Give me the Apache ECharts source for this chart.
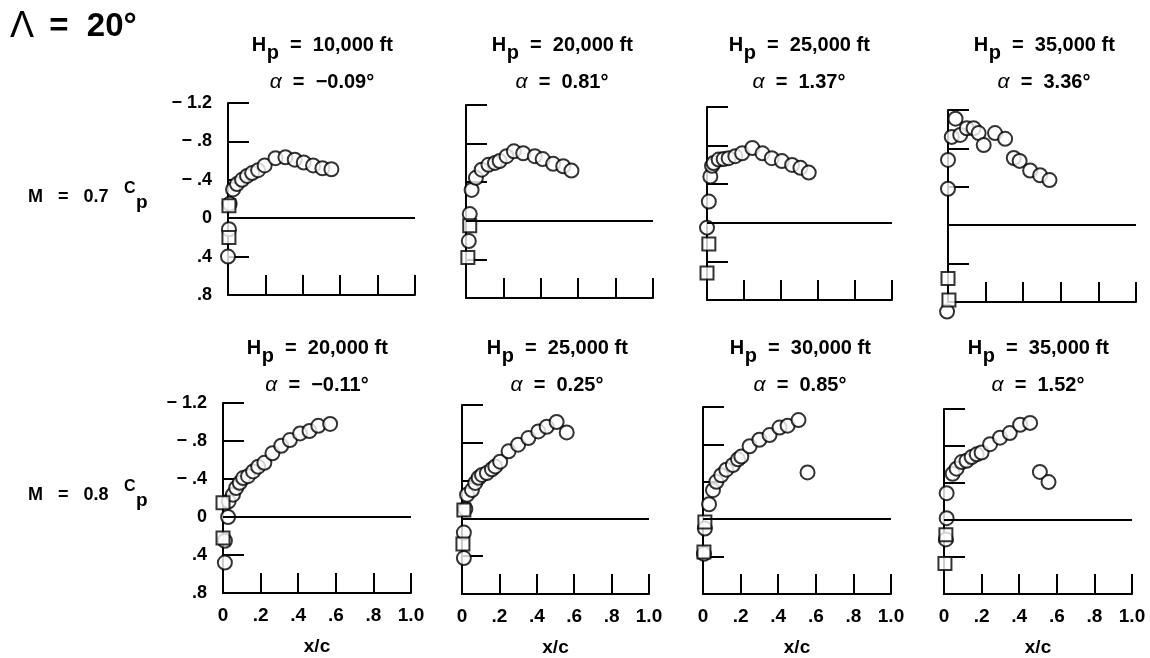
<!DOCTYPE html>
<html>
<head>
<meta charset="utf-8">
<title>Pressure distributions, sweep 20 deg</title>
<script src="https://cdn.jsdelivr.net/npm/echarts@6/dist/echarts.min.js"></script>
<style>
  html, body { margin: 0; padding: 0; background: #fff; }
  #chart { width: 1150px; height: 658px; }
</style>
</head>
<body>
<div id="chart"></div>
<script>
// tick labels
const xTickLabels = ['0', '.2', '.4', '.6', '.8', '1.0'];
const yTickLabels = ['\u2212 1.2', '\u2212 .8', '\u2212 .4', '0', '.4', '.8'];

// panel headings
const machLabels = ['0.7', '0.8'];
const altitudes = ['10,000', '20,000', '25,000', '35,000', '20,000', '25,000', '30,000', '35,000'];
const alphas = ['\u22120.09', '0.81', '1.37', '3.36', '\u22120.11', '0.25', '0.85', '1.52'];

// [x/c, Cp]
// M = 0.7
const m7h10Circles = [[0.009, -0.15], [0.027, -0.30], [0.048, -0.355], [0.075, -0.40], [0.102, -0.44],
  [0.129, -0.47], [0.161, -0.50], [0.196, -0.55], [0.254, -0.625], [0.307, -0.635], [0.357, -0.61],
  [0.405, -0.58], [0.455, -0.55], [0.505, -0.52], [0.553, -0.51], [0.005, 0.115], [0.0, 0.40]];
const m7h10Squares = [[0.005, -0.13], [0.005, 0.20]];

const m7h20Circles = [[0.03, -0.32], [0.053, -0.445], [0.084, -0.53], [0.12, -0.58], [0.155, -0.60],
  [0.18, -0.62], [0.217, -0.67], [0.256, -0.72], [0.306, -0.70], [0.368, -0.67], [0.41, -0.64],
  [0.466, -0.59], [0.52, -0.565], [0.564, -0.52], [0.02, -0.07], [0.015, 0.21]];
const m7h20Squares = [[0.02, 0.05], [0.01, 0.38]];

const m7h25Circles = [[0.018, -0.48], [0.027, -0.59], [0.036, -0.62], [0.063, -0.655], [0.09, -0.66],
  [0.117, -0.67], [0.153, -0.69], [0.19, -0.72], [0.245, -0.775], [0.30, -0.72], [0.35, -0.67],
  [0.405, -0.64], [0.46, -0.60], [0.505, -0.57], [0.55, -0.52], [0.01, -0.22], [0.0, 0.05]];
const m7h25Squares = [[0.01, 0.22], [0.0, 0.52]];

const m7h35Circles = [[0.02, -0.92], [0.04, -1.11], [0.065, -0.94], [0.10, -1.01], [0.136, -1.01],
  [0.163, -0.96], [0.19, -0.835], [0.25, -0.96], [0.304, -0.90], [0.35, -0.70], [0.381, -0.67],
  [0.437, -0.57], [0.49, -0.52], [0.54, -0.47], [0.0, -0.68], [0.0, -0.38], [-0.005, 0.90]];
const m7h35Squares = [[0.0, 0.556], [0.005, 0.78]];

// M = 0.8
const m8h20Circles = [[0.027, 0.0], [0.03, -0.165], [0.053, -0.235], [0.07, -0.305], [0.089, -0.36],
  [0.107, -0.41], [0.133, -0.43], [0.16, -0.48], [0.187, -0.53], [0.22, -0.57], [0.263, -0.67],
  [0.31, -0.75], [0.356, -0.81], [0.41, -0.88], [0.46, -0.905], [0.507, -0.96], [0.57, -0.98],
  [0.01, 0.25], [0.01, 0.48]];
const m8h20Squares = [[0.0, -0.15], [0.0, 0.22]];

const m8h25Circles = [[0.018, -0.10], [0.027, -0.25], [0.053, -0.30], [0.071, -0.375], [0.089, -0.43],
  [0.107, -0.46], [0.133, -0.48], [0.16, -0.52], [0.178, -0.55], [0.204, -0.60], [0.249, -0.71],
  [0.30, -0.78], [0.355, -0.85], [0.408, -0.92], [0.453, -0.97], [0.506, -1.02], [0.56, -0.91],
  [0.01, 0.15], [0.01, 0.42]];
const m8h25Squares = [[0.01, -0.09], [0.005, 0.27]];

const m8h30Circles = [[0.032, -0.16], [0.053, -0.31], [0.071, -0.40], [0.097, -0.47], [0.124, -0.53],
  [0.159, -0.58], [0.186, -0.64], [0.204, -0.67], [0.248, -0.78], [0.30, -0.85], [0.354, -0.90],
  [0.407, -0.98], [0.45, -1.00], [0.508, -1.06], [0.556, -0.50], [0.01, 0.10], [0.005, 0.37]];
const m8h30Squares = [[0.01, 0.03], [0.005, 0.35]];

const m8h35Circles = [[0.014, -0.29], [0.014, -0.02], [0.046, -0.50], [0.067, -0.555], [0.094, -0.626],
  [0.12, -0.64], [0.147, -0.68], [0.174, -0.71], [0.20, -0.73], [0.245, -0.82], [0.298, -0.89],
  [0.35, -0.94], [0.405, -1.03], [0.458, -1.05], [0.51, -0.52], [0.556, -0.41], [0.01, 0.21]];
const m8h35Squares = [[0.01, 0.16], [0.005, 0.47]];

const panels = [
  [m7h10Circles, m7h10Squares], [m7h20Circles, m7h20Squares],
  [m7h25Circles, m7h25Squares], [m7h35Circles, m7h35Squares],
  [m8h20Circles, m8h20Squares], [m8h25Circles, m8h25Squares],
  [m8h30Circles, m8h30Squares], [m8h35Circles, m8h35Squares]
];

// plot boxes: left, top, width, height
const boxes = [
  [228, 103, 187, 192], [466, 105, 187, 193], [707, 107, 185, 193], [948, 110, 188, 192],
  [223, 403, 188, 190], [462, 405, 187, 190], [703, 407, 188, 189], [944, 409, 188, 188]
];
const titleX = [322, 562, 799, 1044, 317, 557, 800, 1038];

const FONT = '"Liberation Sans", Arial, Helvetica, sans-serif';
const black = '#000';

// canvas used only to measure text so the subscript can sit next to its letter
const measureCtx = document.createElement('canvas').getContext('2d');
function textWidth(str, font) {
  measureCtx.font = font;
  return measureCtx.measureText(str).width;
}
function txt(x, y, str, font, align) {
  return {
    type: 'text', x: x, y: y, silent: true,
    style: { text: str, font: font, fill: black, align: align || 'left', verticalAlign: 'middle' }
  };
}
// letter + lowered subscript + rest, centred on cx (or starting at cx when left)
function subText(cx, cy, main, sub, rest, font, subFont, drop, left) {
  const w1 = textWidth(main, font);
  const w2 = textWidth(sub, subFont);
  const w3 = textWidth(rest, font);
  const x0 = left ? cx : cx - (w1 + w2 + w3) / 2;
  return [
    txt(x0, cy, main, font),
    txt(x0 + w1 + 0.5, cy + drop, sub, subFont),
    txt(x0 + w1 + w2 + 0.5, cy, rest, font)
  ];
}

let chart = echarts.init(document.getElementById('chart'));
let option = {
  animation: false,
  backgroundColor: '#fff',
  grid: [],
  xAxis: [],
  yAxis: [],
  series: [],
  graphic: []
};

const markerStyle = { color: '#fff', borderColor: black, borderWidth: 2 };
const headFont = 'bold 20px ' + FONT;

panels.forEach(function (p, i) {
  const row = i < 4 ? 0 : 1;
  const col = i % 4;
  const b = boxes[i];
  option.grid.push({ left: b[0], top: b[1], width: b[2], height: b[3] });
  option.xAxis.push({
    gridIndex: i, type: 'value', min: 0, max: 1, interval: 0.2,
    name: row === 1 ? 'x/c' : '',
    nameLocation: 'middle', nameGap: 44,
    nameTextStyle: { fontFamily: FONT, fontWeight: 'bold', fontSize: 19, color: black },
    axisLine: { onZero: false, lineStyle: { color: black, width: 2 } },
    axisTick: { inside: true, length: 20, lineStyle: { color: black, width: 2 } },
    axisLabel: {
      show: row === 1, margin: 13, color: black,
      fontFamily: FONT, fontWeight: 'bold', fontSize: 19,
      formatter: function (v) { return xTickLabels[Math.round(v / 0.2)]; }
    },
    splitLine: { show: false }
  });
  option.yAxis.push({
    gridIndex: i, type: 'value', inverse: true, min: -1.2, max: 0.8, interval: 0.4,
    axisLine: { show: true, lineStyle: { color: black, width: 2 } },
    axisTick: { show: true, inside: true, length: 21, lineStyle: { color: black, width: 2 } },
    axisLabel: {
      show: col === 0, margin: 16, color: black,
      fontFamily: FONT, fontWeight: 'bold', fontSize: 18,
      formatter: function (v) { return yTickLabels[Math.round((v + 1.2) / 0.4)]; }
    },
    splitLine: { show: false }
  });
  option.series.push({
    type: 'scatter', xAxisIndex: i, yAxisIndex: i, clip: false,
    symbol: 'circle', symbolSize: 14, itemStyle: markerStyle,
    data: p[0],
    markLine: {
      silent: true, symbol: 'none', animation: false,
      label: { show: false },
      lineStyle: { color: black, width: 2, type: 'solid' },
      data: [{ yAxis: 0 }]
    }
  });
  option.series.push({
    type: 'scatter', xAxisIndex: i, yAxisIndex: i, clip: false,
    symbol: 'rect', symbolSize: 13, itemStyle: markerStyle,
    data: p[1]
  });

  // heading above each plot
  const ty = row === 0 ? 45 : 348;
  option.graphic = option.graphic.concat(
    subText(titleX[i], ty, 'H', 'p', '  =  ' + altitudes[i] + ' ft', headFont, headFont, 8)
  );
  const aFont = 'italic 21px ' + FONT;
  const wa = textWidth('\u03b1', aFont);
  const restA = '  =  ' + alphas[i] + '\u00b0';
  const wr = textWidth(restA, headFont);
  const ax = titleX[i] - (wa + wr) / 2;
  option.graphic.push(txt(ax, ty + 37, '\u03b1', aFont));
  option.graphic.push(txt(ax + wa, ty + 37, restA, headFont));
});

// sweep label and row labels
option.graphic.push(txt(10, 27, '\u039b', '36px ' + FONT));
option.graphic.push(txt(40, 27, ' =  20\u00b0', 'bold 33px ' + FONT));
machLabels.forEach(function (m, r) {
  const cy = r === 0 ? 197 : 495;
  option.graphic.push(txt(28, cy, 'M   =   ' + m, 'bold 18px ' + FONT));
  option.graphic = option.graphic.concat(
    subText(124, cy - 8, 'C', 'p', '', 'bold 16px ' + FONT, 'bold 19px ' + FONT, 14, true)
  );
});

chart.setOption(option);
</script>
</body>
</html>
